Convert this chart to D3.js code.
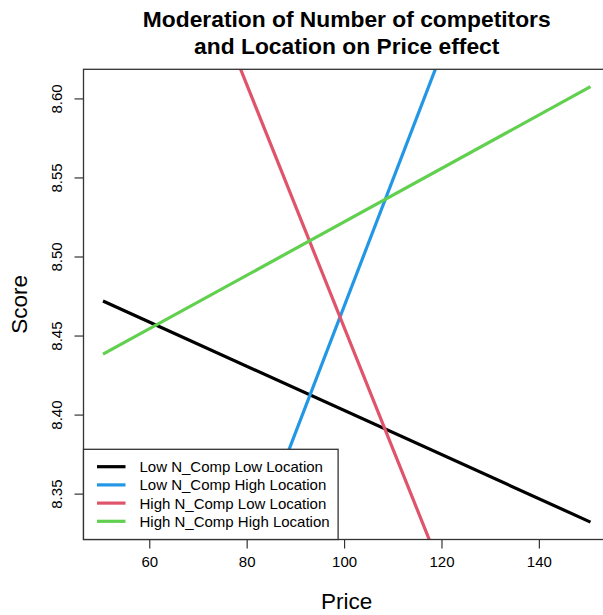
<!DOCTYPE html>
<html>
<head>
<meta charset="utf-8">
<script src="https://cdn.jsdelivr.net/npm/d3@7"></script>
<style>
  html, body { margin: 0; padding: 0; background: #fff; }
  svg { display: block; font-family: "Liberation Sans", Arial, Helvetica, sans-serif; }
</style>
</head>
<body>
<div id="chart"></div>
<script>
// data: each line is the fitted Score at the low and high end of Price
const seriesNames = [
  "Low N_Comp Low Location",
  "Low N_Comp High Location",
  "High N_Comp Low Location",
  "High N_Comp High Location"
];
const priceRange = [50.5, 150.6];
const scoreAtLow = [8.4718, 8.0720, 8.8355, 8.4382];
const scoreAtHigh = [8.3320, 8.8736, 8.0666, 8.6074];
const xTicks = [60, 80, 100, 120, 140];
const yTicks = [8.35, 8.40, 8.45, 8.50, 8.55, 8.60];

const lineColors = ["#000000", "#2297E6", "#DF536B", "#61D04F"];

const width = 603, height = 615;
// plot region (right edge runs past the canvas, as in the original)
const plot = { left: 83.5, top: 69.3, right: 610, bottom: 539.5 };

const svg = d3.select("#chart").append("svg")
  .attr("width", width)
  .attr("height", height)
  .attr("viewBox", `0 0 ${width} ${height}`);

// R style 4% axis expansion
const pad = (ext) => { const d = (ext[1] - ext[0]) * 0.04; return [ext[0] - d, ext[1] + d]; };
const yExtent = [d3.min([scoreAtLow[0], scoreAtHigh[0], scoreAtLow[3], scoreAtHigh[3]]),
                 d3.max([scoreAtLow[0], scoreAtHigh[0], scoreAtLow[3], scoreAtHigh[3]])];

const x = d3.scaleLinear().domain(pad(priceRange)).range([plot.left, plot.right]);
const y = d3.scaleLinear().domain(pad(yExtent)).range([plot.bottom, plot.top]);

svg.append("defs").append("clipPath").attr("id", "plotClip")
  .append("rect")
  .attr("x", plot.left).attr("y", plot.top)
  .attr("width", plot.right - plot.left).attr("height", plot.bottom - plot.top);

// lines
const lineGen = d3.line().x(d => x(d[0])).y(d => y(d[1]));
const lineGroup = svg.append("g").attr("clip-path", "url(#plotClip)");
seriesNames.forEach((name, i) => {
  const pts = [[priceRange[0], scoreAtLow[i]], [priceRange[1], scoreAtHigh[i]]];
  lineGroup.append("path")
    .attr("d", lineGen(pts))
    .attr("fill", "none")
    .attr("stroke", lineColors[i])
    .attr("stroke-width", 3.2);
});

// axes
const axisColor = "#333";
const xAxis = svg.append("g")
  .attr("transform", `translate(0, ${plot.bottom})`)
  .call(d3.axisBottom(x).tickValues(xTicks).tickSize(9).tickPadding(8).tickFormat(d3.format("d")));
const yAxis = svg.append("g")
  .attr("transform", `translate(${plot.left}, 0)`)
  .call(d3.axisLeft(y).tickValues(yTicks).tickSize(9).tickFormat(d3.format(".2f")));

[xAxis, yAxis].forEach(ax => {
  ax.select(".domain").remove();
  ax.selectAll(".tick line").attr("stroke", axisColor).attr("stroke-width", 1.2);
  ax.selectAll(".tick text").attr("fill", "#000").style("font-size", "15px")
    .style("font-family", "'Liberation Sans', Arial, sans-serif");
});
// x-axis tick range line (R draws axis line from first to last tick)
svg.append("line")
  .attr("x1", x(xTicks[0])).attr("x2", x(xTicks[xTicks.length - 1]))
  .attr("y1", plot.bottom).attr("y2", plot.bottom)
  .attr("stroke", axisColor).attr("stroke-width", 1.2);

// y tick labels are rotated, parallel to the axis
yAxis.selectAll(".tick text")
  .attr("x", null).attr("dy", null)
  .attr("text-anchor", "middle")
  .attr("transform", "translate(-22, 0) rotate(-90)");

// box
svg.append("rect")
  .attr("x", plot.left).attr("y", plot.top)
  .attr("width", plot.right - plot.left).attr("height", plot.bottom - plot.top)
  .attr("fill", "none").attr("stroke", axisColor).attr("stroke-width", 1.3);

// legend, bottom left
const legendFont = 15, rowH = 18.2;
const legend = svg.append("g");
const legendBox = legend.append("rect")
  .attr("fill", "#fff").attr("stroke", axisColor).attr("stroke-width", 1.3);
let maxW = 0;
seriesNames.forEach((name, i) => {
  const cy = plot.bottom - 72.8 + i * rowH;
  legend.append("line")
    .attr("x1", plot.left + 13.5).attr("x2", plot.left + 42)
    .attr("y1", cy).attr("y2", cy)
    .attr("stroke", lineColors[i]).attr("stroke-width", 3.2);
  const t = legend.append("text")
    .attr("x", plot.left + 56).attr("y", cy + 5.4)
    .style("font-size", legendFont + "px")
    .attr("fill", "#000")
    .text(name);
  maxW = Math.max(maxW, t.node().getComputedTextLength());
});
legendBox
  .attr("x", plot.left).attr("y", plot.bottom - 90.2)
  .attr("width", 56 + maxW + 8.5).attr("height", 90.2);

// titles
const cx = (plot.left + plot.right) / 2;
const title = svg.append("text")
  .attr("text-anchor", "middle")
  .style("font-size", "22.8px").style("font-weight", "bold")
  .attr("fill", "#000");
title.append("tspan").attr("x", cx).attr("y", 27).text("Moderation of Number of competitors");
title.append("tspan").attr("x", cx).attr("y", 54).text("and Location on Price effect");

svg.append("text")
  .attr("x", cx).attr("y", 609)
  .attr("text-anchor", "middle")
  .style("font-size", "22.5px")
  .attr("fill", "#000")
  .text("Price");

svg.append("text")
  .attr("transform", `translate(26.5, ${(plot.top + plot.bottom) / 2}) rotate(-90)`)
  .attr("text-anchor", "middle")
  .style("font-size", "22.5px")
  .attr("fill", "#000")
  .text("Score");
</script>
</body>
</html>
